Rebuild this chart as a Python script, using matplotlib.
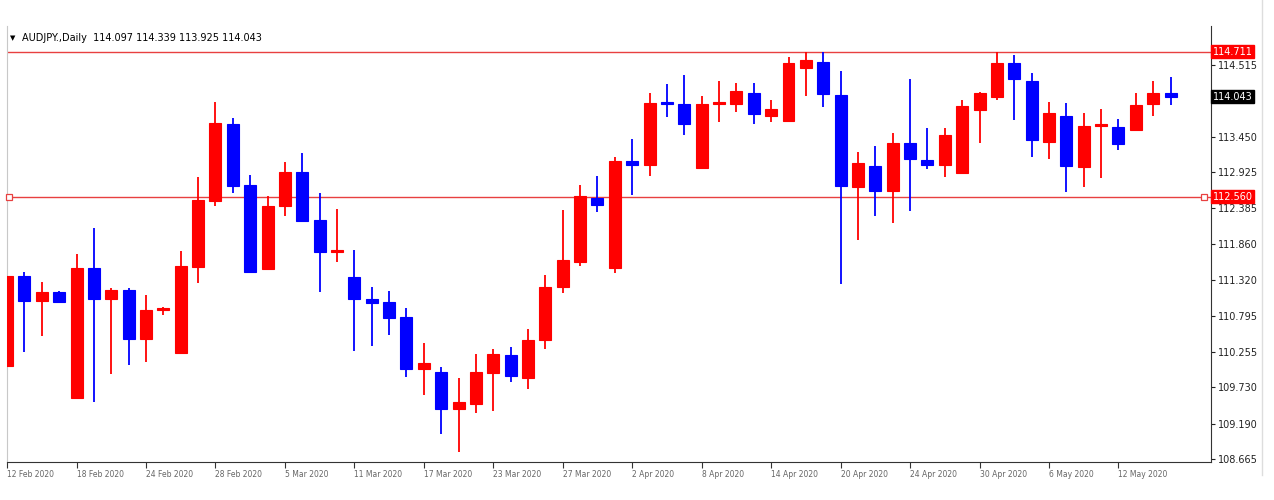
import matplotlib
matplotlib.use("Agg")
import matplotlib.pyplot as plt
from matplotlib.lines import Line2D
import numpy as np

# daily candles (oldest first)
opens = [110.046, 111.382, 111.011, 111.145, 109.571, 111.501, 111.041, 111.174, 110.447, 110.877,
         110.239, 111.516, 112.496, 113.639, 112.733, 111.486, 112.421, 112.926, 112.214, 111.738,
         111.367, 111.041, 110.996, 110.773, 110.001, 109.957, 109.407, 109.482, 109.942, 110.209,
         109.868, 110.432, 111.219, 111.590, 112.540, 111.501, 113.090, 113.030, 113.966, 113.936,
         112.986, 113.936, 113.936, 114.099, 113.758, 113.684, 114.470, 114.560, 114.070, 112.703,
         113.015, 112.644, 113.357, 113.104, 113.030, 112.911, 113.847, 114.040, 114.545, 114.277,
         113.372, 113.758, 113.000, 113.609, 113.594, 113.550, 113.936, 114.097]
highs = [111.471, 111.442, 111.293, 111.160, 111.709, 112.095, 111.204, 111.204, 111.100, 110.922,
         111.753, 112.852, 113.966, 113.728, 112.882, 112.570, 113.075, 113.208, 112.614, 112.377,
         111.768, 111.219, 111.160, 110.907, 110.387, 110.031, 109.868, 110.224, 110.298, 110.328,
         110.595, 111.397, 112.362, 112.733, 112.867, 113.149, 113.416, 114.099, 114.233, 114.367,
         114.055, 114.277, 114.248, 114.248, 113.995, 114.634, 114.708, 114.708, 114.426, 113.223,
         113.312, 113.505, 114.307, 113.580, 113.580, 113.995, 114.114, 114.715, 114.663, 114.396,
         113.966, 113.951, 113.802, 113.862, 113.713, 114.099, 114.277, 114.339]
lows = [109.942, 110.254, 110.491, 110.981, 109.556, 109.511, 109.927, 110.061, 110.105, 110.803,
        110.224, 111.278, 112.421, 112.614, 111.430, 111.471, 112.273, 112.184, 111.145, 111.590,
        110.268, 110.343, 110.506, 109.882, 109.615, 109.036, 108.769, 109.348, 109.378, 109.808,
        109.704, 110.298, 111.130, 111.531, 112.332, 111.427, 112.585, 112.867, 113.743, 113.476,
        112.970, 113.669, 113.817, 113.639, 113.669, 113.669, 114.055, 113.891, 111.263, 111.917,
        112.273, 112.169, 112.347, 112.971, 112.852, 112.900, 113.357, 113.995, 113.698, 113.149,
        113.119, 112.629, 112.703, 112.837, 113.253, 113.540, 113.758, 113.925]
closes = [111.382, 111.011, 111.145, 110.996, 111.501, 111.041, 111.174, 110.447, 110.877, 110.907,
          111.531, 112.511, 113.654, 112.718, 111.442, 112.421, 112.926, 112.199, 111.738, 111.753,
          111.041, 110.981, 110.758, 110.001, 110.090, 109.407, 109.511, 109.957, 110.224, 109.897,
          110.432, 111.219, 111.620, 112.570, 112.436, 113.090, 113.030, 113.951, 113.936, 113.639,
          113.936, 113.966, 114.129, 113.787, 113.862, 114.545, 114.589, 114.084, 112.718, 113.060,
          112.644, 113.357, 113.119, 113.030, 113.476, 113.906, 114.099, 114.545, 114.307, 113.401,
          113.802, 113.015, 113.609, 113.624, 113.342, 113.921, 114.099, 114.043]

date_labels = ["12 Feb 2020", "18 Feb 2020", "24 Feb 2020", "28 Feb 2020", "5 Mar 2020",
               "11 Mar 2020", "17 Mar 2020", "23 Mar 2020", "27 Mar 2020", "2 Apr 2020",
               "8 Apr 2020", "14 Apr 2020", "20 Apr 2020", "24 Apr 2020", "30 Apr 2020",
               "6 May 2020", "12 May 2020"]
price_ticks = [114.515, 113.985, 113.450, 112.925, 112.385, 111.860, 111.320,
               110.795, 110.255, 109.730, 109.190, 108.665]
hidden_tick = 113.985  # sits under the last-price tag
resistance = 114.711
support = 112.560
title = "AUDJPY.,Daily  114.097 114.339 113.925 114.043"

o = np.array(opens); h = np.array(highs); l = np.array(lows); c = np.array(closes)
x = np.arange(len(o))
up = c >= o
cols = np.where(up, "#ff0000", "#0000ff")

fig = plt.figure(figsize=(12.74, 5.0), dpi=100)
ax = fig.add_axes([0.00526, 0.076, 0.9453, 0.872])

ax.vlines(x, l, h, colors=cols, linewidth=1.3, zorder=2)
body_bot = np.minimum(o, c)
body_h = np.maximum(np.abs(c - o), 0.025)
ax.bar(x, body_h, bottom=body_bot, width=0.69, color=cols, edgecolor=cols, linewidth=0.8, zorder=3)

ax.axhline(resistance, color="#e84040", linewidth=1.0, zorder=1)
ax.axhline(support, color="#e84040", linewidth=1.0, zorder=1)
ax.plot([0.12, 68.95], [support, support], linestyle="none", marker="s", markersize=4.5,
        markerfacecolor="white", markeredgecolor="#e84040", markeredgewidth=0.9, zorder=4,
        clip_on=False)

ax.set_xlim(-0.02, 69.33)
ax.set_ylim(108.62, 115.094)

ax.yaxis.tick_right()
ax.set_yticks(price_ticks)
ax.set_yticklabels(["" if p == hidden_tick else f"{p:.3f}" for p in price_ticks])
ax.tick_params(axis="y", direction="out", length=3, width=0.8, labelsize=7, pad=2, colors="#222222")
ax.set_xticks(x[::4])
ax.set_xticklabels(date_labels, ha="left")
ax.tick_params(axis="x", direction="out", length=4, width=0.8, labelsize=5.5, pad=1.5,
               colors="#333333", labelcolor="#666666")

ax.spines["top"].set_visible(False)
ax.spines["left"].set_color("#c8c8c8")
ax.spines["right"].set_color("#333333")
ax.spines["bottom"].set_color("#333333")

# price tags on the right scale
tag_kw = dict(xycoords=("axes fraction", "data"), fontsize=7, va="center", ha="left",
              annotation_clip=False, zorder=10)
ax.annotate(f"{resistance:.3f}", (1.0015, resistance), color="white",
            bbox=dict(boxstyle="square,pad=0.15", fc="#ff0000", ec="#ff0000"), **tag_kw)
ax.annotate(f"{support:.3f}", (1.0015, support), color="white",
            bbox=dict(boxstyle="square,pad=0.15", fc="#ff0000", ec="#ff0000"), **tag_kw)
ax.annotate(f"{closes[-1]:.3f}", (1.0015, closes[-1]), color="white",
            bbox=dict(boxstyle="square,pad=0.15", fc="#000000", ec="#000000"), **tag_kw)

ax.text(0.003, 0.973, "\u25bc", transform=ax.transAxes, fontsize=5, va="center", ha="left")
ax.text(0.013, 0.973, title, transform=ax.transAxes, fontsize=7, va="center", ha="left")

fig.add_artist(Line2D([0.9905, 0.9905], [0.05, 1.0], color="#dddddd", linewidth=1))

fig.savefig("out.png", dpi=100, facecolor="white")
